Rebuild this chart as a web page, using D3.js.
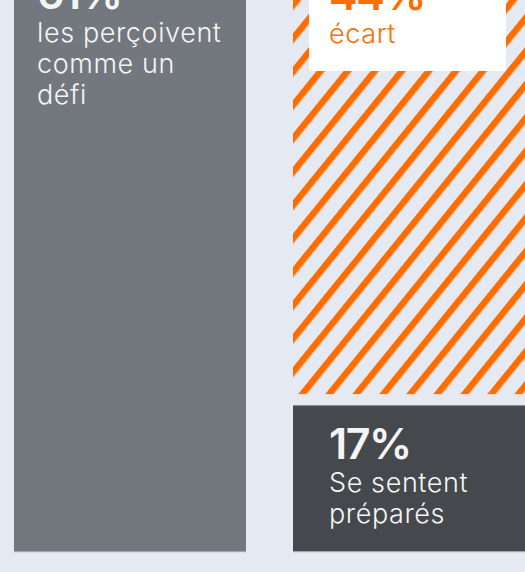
<!DOCTYPE html>
<html>
<head>
<meta charset="utf-8">
<script src="https://cdn.jsdelivr.net/npm/d3@7"></script>
<style>
  html, body { margin: 0; padding: 0; background: #e5eaf2; }
  svg { display: block; }
  text { font-family: "Inter", "Lato", sans-serif; }
</style>
</head>
<body>
<svg width="525" height="572"></svg>
<script>
(() => {

    var width = 525;
    var height = 572;

    // data
    var categories = ["défi", "préparés"];
    var percents = [61, 17];
    var gapValue = 44;
    var labelLines = [["les perçoivent", "comme un", "défi"], ["Se sentent", "préparés"]];
    var gapLabel = "écart";

    var orange = "#ff6d00";

    var svg = d3.select("svg");

    // scales
    var x = d3.scaleBand().domain(categories).range([14, 525]).paddingInner(0.1685);
    var y = d3.scaleLinear().domain([0, 61]).range([551, -12]);

    // hatch pattern
    var defs = svg.append("defs");
    var pat = defs.append("pattern")
        .attr("id", "hatch")
        .attr("patternUnits", "userSpaceOnUse")
        .attr("width", 21)
        .attr("height", 21)
        .attr("patternTransform", "translate(293,0) rotate(39)");
    pat.append("rect").attr("width", 21).attr("height", 21).attr("fill", "#e5eaf2");
    pat.append("rect").attr("x", 0).attr("width", 6.5).attr("height", 21).attr("fill", orange);

    // left bar (61%)
    svg.append("rect")
        .attr("x", x("défi"))
        .attr("y", y(61))
        .attr("width", x.bandwidth())
        .attr("height", y(0) - y(61))
        .attr("fill", "#73787f");
    svg.append("rect")
        .attr("x", x("défi"))
        .attr("y", y(0))
        .attr("width", x.bandwidth())
        .attr("height", 1.2)
        .attr("fill", "#a1a5ae");

    // hatched gap between 17 and 61
    svg.append("rect")
        .attr("x", x("préparés"))
        .attr("y", y(17 + gapValue))
        .attr("width", x.bandwidth())
        .attr("height", y(17) - y(17 + gapValue))
        .attr("fill", "url(#hatch)");

    // dark bar (17%) with small gap on top
    var gapPx = 11;
    svg.append("rect")
        .attr("x", x("préparés"))
        .attr("y", y(17) + gapPx)
        .attr("width", x.bandwidth())
        .attr("height", y(0) - y(17) - gapPx)
        .attr("fill", "#45484d");
    svg.append("rect")
        .attr("x", x("préparés"))
        .attr("y", y(17) + gapPx)
        .attr("width", x.bandwidth())
        .attr("height", 1)
        .attr("fill", "#8c9097");
    svg.append("rect")
        .attr("x", x("préparés"))
        .attr("y", y(0))
        .attr("width", x.bandwidth())
        .attr("height", 1.2)
        .attr("fill", "#a1a5ae");

    // white label box for the gap
    svg.append("rect")
        .attr("x", x("préparés") + 16)
        .attr("y", -20)
        .attr("width", 197)
        .attr("height", 91)
        .attr("fill", "#ffffff");

    // labels
    function label(px, baseline, pct, lines, color) {
        svg.append("text")
            .attr("x", px)
            .attr("y", baseline)
            .attr("fill", color)
            .attr("font-size", 43)
            .attr("font-weight", 600)
            .attr("letter-spacing", -1.5)
            .text(pct + "%");
        lines.forEach(function (l, i) {
            svg.append("text")
                .attr("x", px)
                .attr("y", baseline + 33 + i * 31)
                .attr("fill", color)
                .attr("font-size", 27)
                .attr("font-weight", 300)
                .attr("letter-spacing", 0.6)
                .text(l);
        });
    }

    label(x("défi") + 23, 8.5, percents[0], labelLines[0], "#f5f5f5");
    label(x("préparés") + 36, 459, percents[1], labelLines[1], "#f5f5f5");
    label(x("préparés") + 36, 9.5, gapValue, [gapLabel], orange);

})();
</script>
</body>
</html>
